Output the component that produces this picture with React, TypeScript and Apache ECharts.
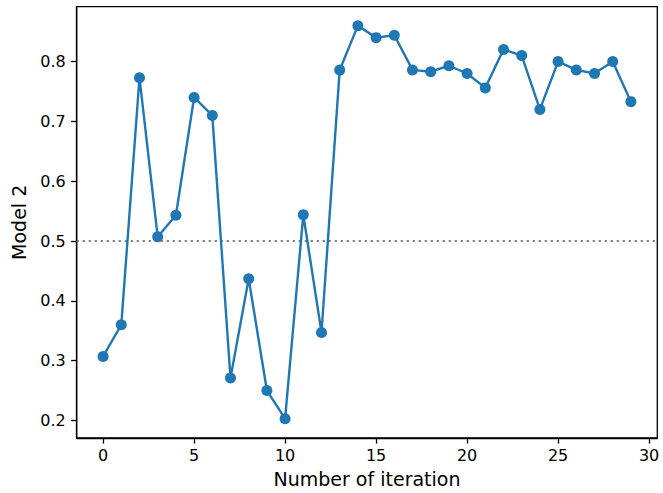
import React, { useEffect, useRef } from "react";
import * as echarts from "echarts";

// Score of model 2 at each iteration
const iterations: number[] = Array.from({ length: 30 }, (_, i) => i);
const scores: number[] = [
  0.307, 0.36, 0.773, 0.507, 0.543, 0.74, 0.71, 0.271, 0.437, 0.25,
  0.203, 0.544, 0.347, 0.786, 0.86, 0.84, 0.844, 0.786, 0.783, 0.793,
  0.78, 0.756, 0.82, 0.81, 0.72, 0.8, 0.786, 0.78, 0.8, 0.733,
];
const xTicks: number[] = [0, 5, 10, 15, 20, 25, 30];
const yTicks: number[] = [0.2, 0.3, 0.4, 0.5, 0.6, 0.7, 0.8];
const threshold = 0.5;

const FONT = "DejaVu Sans";

export default function App() {
  const ref = useRef<HTMLDivElement>(null);

  useEffect(() => {
    if (!ref.current) return;
    const chart = echarts.init(ref.current, undefined, { renderer: "svg" });
    chart.setOption({
      animation: false,
      backgroundColor: "#ffffff",
      textStyle: { fontFamily: FONT },
      grid: {
        left: 76.7,
        right: 5.7,
        top: 6.7,
        bottom: 53.7,
        show: true,
        borderColor: "#000000",
        borderWidth: 1.3,
        backgroundColor: "transparent",
      },
      xAxis: {
        type: "value",
        min: -1.45,
        max: 30.45,
        name: "Number of iteration",
        nameLocation: "middle",
        nameGap: 31,
        nameTextStyle: { fontFamily: FONT, fontSize: 19, color: "#000" },
        axisLine: { show: true, onZero: false, lineStyle: { color: "#000", width: 1.3 } },
        axisTick: {
          show: true,
          length: 5.6,
          lineStyle: { color: "#000", width: 1.3 },
          customValues: xTicks,
        },
        axisLabel: {
          fontFamily: FONT,
          fontSize: 16,
          color: "#000",
          margin: 9,
          customValues: xTicks,
        },
        splitLine: { show: false },
      },
      yAxis: {
        type: "value",
        min: 0.1707,
        max: 0.8917,
        name: "Model 2",
        nameLocation: "middle",
        nameGap: 48,
        nameRotate: 90,
        nameTextStyle: { fontFamily: FONT, fontSize: 19, color: "#000" },
        axisLine: { show: true, onZero: false, lineStyle: { color: "#000", width: 1.3 } },
        axisTick: {
          show: true,
          length: 5.6,
          lineStyle: { color: "#000", width: 1.3 },
          customValues: yTicks,
        },
        axisLabel: {
          fontFamily: FONT,
          fontSize: 16,
          color: "#000",
          margin: 11,
          customValues: yTicks,
          formatter: (v: number) => v.toFixed(1),
        },
        splitLine: { show: false },
      },
      series: [
        {
          type: "line",
          data: iterations.map((x, i) => [x, scores[i]]),
          symbol: "circle",
          symbolSize: 11,
          showSymbol: true,
          itemStyle: { color: "#1f77b4" },
          lineStyle: { color: "#1f77b4", width: 2.4 },
          z: 3,
          markLine: {
            silent: true,
            symbol: "none",
            label: { show: false },
            lineStyle: { color: "#808080", width: 2.2, type: [2.2, 3.8], opacity: 1 },
            data: [{ yAxis: threshold }],
            z: 2,
          },
        },
      ],
    });
    return () => chart.dispose();
  }, []);

  return <div ref={ref} style={{ width: 663, height: 493, position: "absolute", left: 0, top: 0 }} />;
}
